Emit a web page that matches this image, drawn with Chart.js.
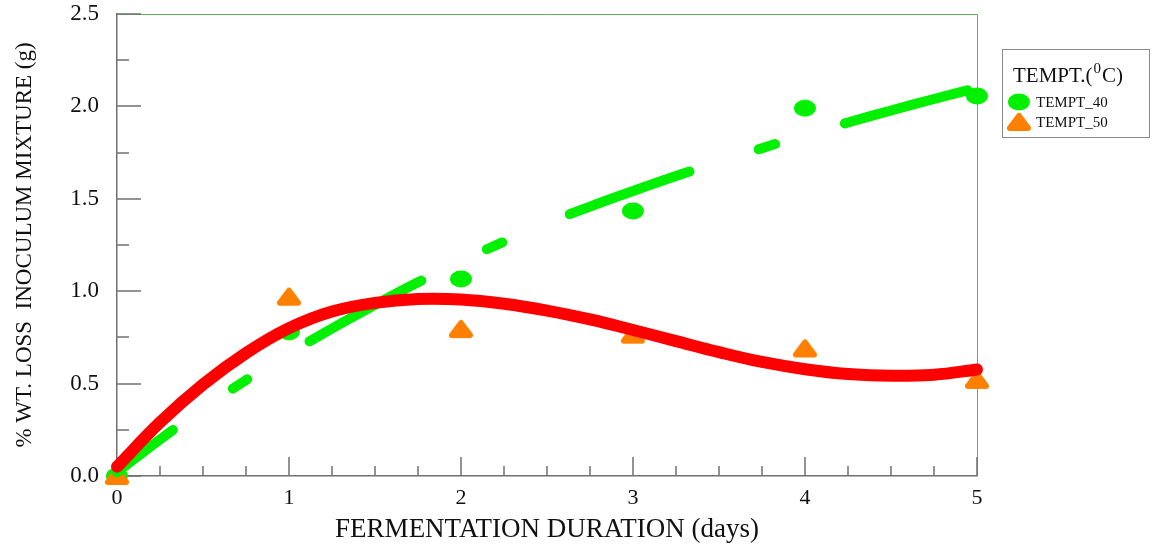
<!DOCTYPE html>
<html>
<head>
<meta charset="utf-8">
<script src="https://cdn.jsdelivr.net/npm/chart.js@4"></script>
<style>
  html, body { margin: 0; padding: 0; background: #fff; }
  #wrap { width: 1155px; height: 544px; }
</style>
</head>
<body>
<div id="wrap"><canvas id="c"></canvas></div>
<script>
// measured weight loss per day
const days = [0, 1, 2, 3, 4, 5];
const tempt40 = [0.0, 0.78, 1.066, 1.434, 1.99, 2.056];
const tempt50 = [0.0, 0.97, 0.795, 0.765, 0.69, 0.52];

// regression curves, read every quarter day
const fitDays = [0, 0.25, 0.5, 0.75, 1, 1.25, 1.5, 1.75, 2, 2.25, 2.5,
                 2.75, 3, 3.25, 3.5, 3.75, 4, 4.25, 4.5, 4.75, 5];
const fit40 = [0.02, 0.198, 0.364, 0.519, 0.663, 0.798, 0.926, 1.048, 1.163, 1.268, 1.368,
               1.458, 1.542, 1.623, 1.70, 1.774, 1.845, 1.913, 1.978, 2.04, 2.10];
const fit50 = [0.05, 0.29, 0.495, 0.665, 0.80, 0.89, 0.937, 0.958, 0.955, 0.932, 0.895,
               0.847, 0.79, 0.73, 0.67, 0.617, 0.578, 0.552, 0.542, 0.548, 0.576];

const serif = '"Liberation Serif", "Times New Roman", serif';
const green = 'rgb(0, 240, 0)';
const red = 'rgb(255, 0, 0)';
const orange = 'rgb(255, 128, 0)';

function ellipseMark(color) {
  const c = document.createElement('canvas');
  c.width = 24; c.height = 20;
  const g = c.getContext('2d');
  g.fillStyle = color;
  g.beginPath();
  g.ellipse(12, 10, 11, 8.5, 0, 0, Math.PI * 2);
  g.fill();
  return c;
}

function triangleMark(color) {
  const c = document.createElement('canvas');
  c.width = 26; c.height = 22;
  const g = c.getContext('2d');
  g.fillStyle = color;
  g.strokeStyle = color;
  g.lineWidth = 6;
  g.lineJoin = 'round';
  g.beginPath();
  g.moveTo(13, 5);
  g.lineTo(4, 17);
  g.lineTo(22, 17);
  g.closePath();
  g.fill();
  g.stroke();
  return c;
}

const pairs = (xs, ys) => xs.map((x, i) => ({ x: x, y: ys[i] }));

// ticks inside the frame plus the green top/right border
const frameTicks = {
  id: 'frameTicks',
  beforeDatasetsDraw(chart) {
    const { ctx, chartArea: a, scales: { x, y } } = chart;
    ctx.save();
    ctx.strokeStyle = 'rgb(90, 180, 90)';
    ctx.lineWidth = 1;
    ctx.beginPath();
    ctx.moveTo(a.left, a.top + 0.5);
    ctx.lineTo(a.right + 0.5, a.top + 0.5);
    ctx.lineTo(a.right + 0.5, a.bottom);
    ctx.stroke();

    ctx.strokeStyle = '#707070';
    ctx.lineWidth = 1.5;
    ctx.beginPath();
    for (let i = 0; i <= 20; i++) {
      const px = Math.round(x.getPixelForValue(i * 0.25));
      const len = i % 4 === 0 ? 19 : 10;
      ctx.moveTo(px, a.bottom);
      ctx.lineTo(px, a.bottom - len);
    }
    for (let i = 0; i <= 10; i++) {
      const py = Math.round(y.getPixelForValue(i * 0.25));
      const len = i % 2 === 0 ? 24 : 12;
      ctx.moveTo(a.left, py);
      ctx.lineTo(a.left + len, py);
    }
    ctx.stroke();
    ctx.restore();
  }
};

// boxed legend at the right
const boxLegend = {
  id: 'boxLegend',
  afterDraw(chart) {
    const ctx = chart.ctx;
    ctx.save();
    ctx.strokeStyle = '#8a8a8a';
    ctx.lineWidth = 1;
    ctx.strokeRect(1002.5, 49.5, 147, 88);

    ctx.fillStyle = '#111';
    ctx.textBaseline = 'alphabetic';
    let tx = 1013;
    ctx.font = '21px ' + serif;
    ctx.fillText('TEMPT.(', tx, 82);
    tx += ctx.measureText('TEMPT.(').width + 1;
    ctx.font = '15px ' + serif;
    ctx.fillText('0', tx, 73);
    tx += ctx.measureText('0').width + 1;
    ctx.font = '21px ' + serif;
    ctx.fillText('C)', tx, 82);

    ctx.font = '15px ' + serif;
    ctx.textBaseline = 'middle';
    chart.data.datasets.filter(d => d.inBox).forEach((d, i) => {
      const cy = 102 + i * 20;
      const img = d.pointStyle;
      ctx.drawImage(img, 1019 - img.width / 2, cy - img.height / 2);
      ctx.fillText(d.label, 1036, cy + 1);
    });
    ctx.restore();
  }
};

new Chart(document.getElementById('c'), {
  type: 'scatter',
  data: {
    datasets: [
      {
        label: 'TEMPT_50 fit',
        type: 'line',
        data: pairs(fitDays, fit50),
        borderColor: red,
        borderWidth: 12,
        borderCapStyle: 'round',
        pointRadius: 0,
        tension: 0.4,
        clip: false,
        order: 0
      },
      {
        label: 'TEMPT_40 fit',
        type: 'line',
        data: pairs(fitDays, fit40),
        borderColor: green,
        borderWidth: 10,
        borderCapStyle: 'round',
        borderDash: [127, 73, 17, 73],
        borderDashOffset: 57,
        pointRadius: 0,
        tension: 0.4,
        clip: false,
        order: 1
      },
      {
        label: 'TEMPT_40',
        inBox: true,
        data: pairs(days, tempt40),
        pointStyle: ellipseMark(green),
        clip: false,
        order: 3
      },
      {
        label: 'TEMPT_50',
        inBox: true,
        data: pairs(days, tempt50),
        pointStyle: triangleMark(orange),
        clip: false,
        order: 2
      }
    ]
  },
  options: {
    responsive: true,
    maintainAspectRatio: false,
    animation: false,
    layout: { autoPadding: false, padding: { top: 14, right: 178, left: 0, bottom: 0 } },
    plugins: {
      legend: { display: false },
      tooltip: { enabled: false }
    },
    scales: {
      x: {
        type: 'linear',
        min: 0,
        max: 5,
        grid: { display: false, drawTicks: false },
        border: { display: true, color: '#707070', width: 1.5 },
        ticks: {
          stepSize: 1,
          color: '#111',
          padding: 9,
          font: { family: serif, size: 22 }
        },
        title: {
          display: true,
          text: 'FERMENTATION DURATION (days)',
          color: '#111',
          padding: { top: 0, bottom: 1 },
          font: { family: serif, size: 27, lineHeight: 1 }
        },
        afterFit: s => { s.height = 68; s.paddingLeft = 0; s.paddingRight = 0; }
      },
      y: {
        type: 'linear',
        min: 0,
        max: 2.5,
        grid: { display: false, drawTicks: false },
        border: { display: true, color: '#707070', width: 1.5 },
        ticks: {
          stepSize: 0.5,
          color: '#111',
          padding: 18,
          font: { family: serif, size: 23 },
          callback: v => v.toFixed(1)
        },
        title: {
          display: true,
          text: '% WT. LOSS  INOCULUM MIXTURE (g)',
          color: '#111',
          padding: { top: 11, bottom: 0 },
          font: { family: serif, size: 23 }
        },
        afterFit: s => { s.width = 117; s.paddingTop = 0; s.paddingBottom = 0; }
      }
    }
  },
  plugins: [frameTicks, boxLegend]
});
</script>
</body>
</html>
